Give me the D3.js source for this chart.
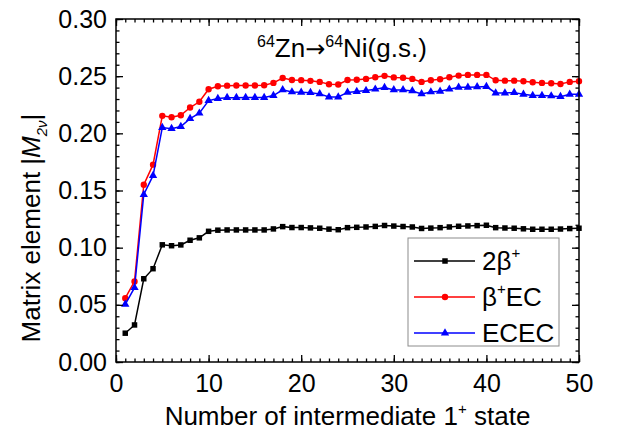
<!DOCTYPE html>
<html><head><meta charset="utf-8">
<script src="https://cdn.jsdelivr.net/npm/d3@7"></script>
<style>
html,body{margin:0;padding:0;background:#fff;}
svg text{font-family:"Liberation Sans",Arial,sans-serif;fill:#000;}
</style></head>
<body><svg id="c" width="621" height="432"></svg>
<script>
const states = [1,2,3,4,5,6,7,8,9,10,11,12,13,14,15,16,17,18,19,20,21,22,23,24,25,26,27,28,29,30,31,32,33,34,35,36,37,38,39,40,41,42,43,44,45,46,47,48,49,50];
const twoBetaPlus = [0.0252,0.0324,0.0728,0.0816,0.1025,0.1017,0.1024,0.1065,0.1086,0.1143,0.1153,0.1155,0.1155,0.1155,0.1155,0.1155,0.1164,0.1184,0.1176,0.1176,0.1173,0.1170,0.1162,0.1157,0.1175,0.1178,0.1181,0.1186,0.1194,0.1189,0.1185,0.1181,0.1168,0.1171,0.1175,0.1181,0.1187,0.1190,0.1193,0.1196,0.1175,0.1172,0.1170,0.1165,0.1161,0.1161,0.1161,0.1163,0.1167,0.1170];
const betaPlusEC = [0.0558,0.0705,0.1550,0.1726,0.2153,0.2141,0.2158,0.2226,0.2276,0.2386,0.2412,0.2417,0.2418,0.2418,0.2418,0.2420,0.2441,0.2484,0.2466,0.2465,0.2459,0.2450,0.2429,0.2427,0.2466,0.2469,0.2476,0.2490,0.2503,0.2489,0.2486,0.2476,0.2450,0.2464,0.2473,0.2490,0.2505,0.2511,0.2511,0.2511,0.2464,0.2461,0.2461,0.2455,0.2447,0.2441,0.2438,0.2432,0.2450,0.2455];
const ECEC = [0.0504,0.0650,0.1465,0.1630,0.2050,0.2041,0.2059,0.2129,0.2176,0.2286,0.2304,0.2312,0.2312,0.2313,0.2313,0.2313,0.2330,0.2380,0.2362,0.2359,0.2356,0.2345,0.2318,0.2318,0.2358,0.2366,0.2374,0.2386,0.2400,0.2380,0.2380,0.2371,0.2345,0.2362,0.2368,0.2386,0.2403,0.2403,0.2406,0.2409,0.2353,0.2353,0.2356,0.2342,0.2330,0.2330,0.2327,0.2321,0.2342,0.2342];
const xTicks = [0,10,20,30,40,50];
const yTicks = [0.00,0.05,0.10,0.15,0.20,0.25,0.30];

const series = [
  {name:"2β", sup:"+", post:"", values:twoBetaPlus, color:"#000000", symbol:d3.symbolSquare, size:30},
  {name:"β", sup:"+", post:"EC", values:betaPlusEC, color:"#ff0000", symbol:d3.symbolCircle, size:32},
  {name:"ECEC", sup:"", post:"", values:ECEC, color:"#0000ff", symbol:d3.symbolTriangle, size:30}
];

const svg = d3.select("#c");
const L=116, R=579, T=19, B=362;
const x = d3.scaleLinear().domain([0,50]).range([L,R]);
const y = d3.scaleLinear().domain([0,0.30]).range([B,T]);

// data
const line = d3.line().x((d,i)=>x(states[i])).y(d=>y(d));
series.forEach(s=>{
  const g = svg.append("g");
  g.append("path").attr("d", line(s.values)).attr("fill","none")
    .attr("stroke", s.color).attr("stroke-width",1.5);
  g.selectAll("path.m").data(s.values).enter().append("path").attr("class","m")
    .attr("d", d3.symbol().type(s.symbol).size(s.size))
    .attr("transform",(d,i)=>`translate(${x(states[i])},${y(d)})`)
    .attr("fill", s.color);
});

// axes
const font = 25;
function styleAxis(g){ g.select(".domain").remove(); g.selectAll("line").attr("stroke","#000").attr("stroke-width",1.3); }
const xMinor = d3.range(0,51,1), yMinor = d3.range(0,31,1).map(v=>v/100);

svg.append("g").attr("transform",`translate(0,${B})`)
  .call(d3.axisBottom(x).tickValues(xMinor).tickSize(-3.5).tickFormat("")).call(styleAxis);
svg.append("g").attr("transform",`translate(0,${B})`)
  .call(d3.axisBottom(x).tickValues(xTicks).tickSize(-7).tickPadding(12).tickFormat(d3.format("d")))
  .call(styleAxis).call(g=>g.selectAll("text").attr("font-size",font).attr("font-family","Liberation Sans"));
svg.append("g").attr("transform",`translate(0,${T})`)
  .call(d3.axisTop(x).tickValues(xMinor).tickSize(-3.5).tickFormat("")).call(styleAxis);
svg.append("g").attr("transform",`translate(0,${T})`)
  .call(d3.axisTop(x).tickValues(xTicks).tickSize(-7).tickFormat("")).call(styleAxis);

svg.append("g").attr("transform",`translate(${L},0)`)
  .call(d3.axisLeft(y).tickValues(yMinor).tickSize(-3.5).tickFormat("")).call(styleAxis);
svg.append("g").attr("transform",`translate(${L},0)`)
  .call(d3.axisLeft(y).tickValues(yTicks).tickSize(-7).tickPadding(9).tickFormat(d3.format(".2f")))
  .call(styleAxis).call(g=>g.selectAll("text").attr("font-size",font).attr("font-family","Liberation Sans"));
svg.append("g").attr("transform",`translate(${R},0)`)
  .call(d3.axisRight(y).tickValues(yMinor).tickSize(-3.5).tickFormat("")).call(styleAxis);
svg.append("g").attr("transform",`translate(${R},0)`)
  .call(d3.axisRight(y).tickValues(yTicks).tickSize(-7).tickFormat("")).call(styleAxis);

// frame
svg.append("rect").attr("x",L).attr("y",T).attr("width",R-L).attr("height",B-T)
  .attr("fill","none").attr("stroke","#000").attr("stroke-width",1.5);

// axis titles
const xt = svg.append("text").attr("x",(L+R)/2).attr("y",425).attr("text-anchor","middle").attr("font-size",26);
xt.append("tspan").text("Number of intermediate 1");
xt.append("tspan").text("+").attr("font-size",15).attr("dy",-11);
xt.append("tspan").text(" state").attr("dy",11);

const yt = svg.append("text").attr("transform","translate(40,228) rotate(-90)").attr("text-anchor","middle").attr("font-size",26);
yt.append("tspan").text("Matrix element |");
yt.append("tspan").text("M").attr("font-style","italic");
yt.append("tspan").text("2ν").attr("font-style","italic").attr("font-size",15).attr("dy",7);
yt.append("tspan").text("|").attr("dy",-7);

// title
const tt = svg.append("text").attr("x",257).attr("y",57).attr("font-size",26);
tt.append("tspan").text("64").attr("font-size",16).attr("dy",-10);
tt.append("tspan").text("Zn").attr("dy",10);
tt.append("tspan").text("→").attr("font-family","DejaVu Sans").attr("font-size",24);
tt.append("tspan").text("64").attr("font-size",16).attr("dy",-10);
tt.append("tspan").text("Ni(g.s.)").attr("dy",10);

// legend
const lg = svg.append("g");
lg.append("rect").attr("x",408).attr("y",238).attr("width",151).attr("height",108)
  .attr("fill","#fff").attr("stroke","#8c8c8c").attr("stroke-width",1);
series.forEach((s,i)=>{
  const yy = 261 + i*36;
  lg.append("line").attr("x1",414).attr("x2",475).attr("y1",yy).attr("y2",yy).attr("stroke",s.color).attr("stroke-width",1.5);
  lg.append("path").attr("d",d3.symbol().type(s.symbol).size(s.size)).attr("transform",`translate(445,${yy})`).attr("fill",s.color);
  const t = lg.append("text").attr("x",482).attr("y",yy+9).attr("font-size",26);
  t.append("tspan").text(s.name);
  if(s.sup){ t.append("tspan").text(s.sup).attr("font-size",15).attr("dy",-12);
    if(s.post) t.append("tspan").text(s.post).attr("dy",12); }
});
</script></body></html>
